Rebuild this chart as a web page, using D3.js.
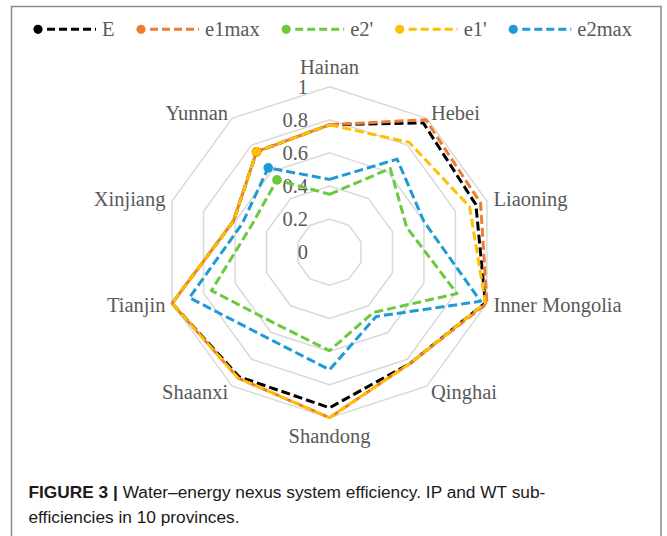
<!DOCTYPE html>
<html>
<head>
<meta charset="utf-8">
<script src="https://cdn.jsdelivr.net/npm/d3@7"></script>
<style>
  html, body { margin: 0; padding: 0; background: #ffffff; }
  svg { display: block; }
</style>
</head>
<body>
<svg id="chart" width="667" height="536"></svg>
<script>
// ---------- data ----------
const categories = ["Hainan", "Hebei", "Liaoning", "Inner Mongolia", "Qinghai", "Shandong", "Shaanxi", "Tianjin", "Xinjiang", "Yunnan"];
const seriesNames = ["E", "e1max", "e2'", "e1'", "e2max"];
const valuesE     = [0.77, 0.965, 0.93, 0.99, 0.83, 0.94, 0.93, 1.00, 0.61, 0.75];
const valuesE1max = [0.77, 0.99, 0.96, 1.00, 0.83, 1.00, 0.94, 1.00, 0.61, 0.75];
const valuesE2p   = [0.35, 0.625, 0.49, 0.81, 0.45, 0.595, 0.54, 0.75, 0.50, 0.54];
const valuesE1p   = [0.77, 0.82, 0.89, 0.99, 0.83, 1.00, 0.94, 1.00, 0.61, 0.75];
const valuesE2max = [0.44, 0.695, 0.60, 0.96, 0.48, 0.71, 0.64, 0.89, 0.555, 0.63];
const tickValues = [0, 0.2, 0.4, 0.6, 0.8, 1];
const tickLabels = ["0", "0.2", "0.4", "0.6", "0.8", "1"];
const captionBold = "FIGURE 3 |";
const captionLine1 = " Water\u2013energy nexus system efficiency. IP and WT sub-";
const captionLine2 = "efficiencies in 10 provinces.";

// ---------- styling ----------
const colors = ["#000000", "#ED7D31", "#6CC93D", "#FFC000", "#1E9BD7"];
const serif = "'Liberation Serif', 'Times New Roman', serif";
const textGray = "#595959";

const series = [valuesE, valuesE1max, valuesE2p, valuesE1p, valuesE2max].map((v, i) => ({
  name: seriesNames[i], values: v, color: colors[i]
}));

const svg = d3.select("#chart");
const cx = 329.5, cy = 252.2, R = 165.5;

// frame
svg.append("rect")
  .attr("x", 11.5).attr("y", 6.5)
  .attr("width", 649.5).attr("height", 560)
  .attr("fill", "#fff").attr("stroke", "#8a8a8a").attr("stroke-width", 1.5);

const r = d3.scaleLinear().domain([0, 1]).range([0, R]);
const angle = d3.scaleLinear().domain([0, categories.length]).range([0, 2 * Math.PI]);

const g = svg.append("g").attr("transform", `translate(${cx},${cy})`);

// grid rings
const ringLine = d3.lineRadial()
  .angle((d, i) => angle(i))
  .radius(d => r(d))
  .curve(d3.curveLinearClosed);

g.selectAll("path.ring")
  .data(tickValues.filter(t => t > 0))
  .join("path")
  .attr("class", "ring")
  .attr("d", t => ringLine(categories.map(() => t)))
  .attr("fill", "none")
  .attr("stroke", "#d9d9d9")
  .attr("stroke-width", 1.5);

// tick labels
g.selectAll("text.tick")
  .data(tickValues)
  .join("text")
  .attr("class", "tick")
  .attr("x", -21.5)
  .attr("y", t => -r(t))
  .attr("text-anchor", "end")
  .attr("dominant-baseline", "central")
  .attr("font-family", serif)
  .attr("font-size", 20.5)
  .attr("fill", textGray)
  .text((t, i) => tickLabels[i]);

// category labels
g.selectAll("text.cat")
  .data(categories)
  .join("text")
  .attr("class", "cat")
  .each(function (d, i) {
    const a = angle(i);
    const s = Math.sin(a), c = Math.cos(a);
    const vx = r(1) * s, vy = -r(1) * c;
    const el = d3.select(this);
    if (Math.abs(s) < 0.01) {
      el.attr("x", vx).attr("y", vy + (c > 0 ? -19.5 : 18))
        .attr("text-anchor", "middle");
    } else {
      el.attr("x", vx + s * 7).attr("y", vy - c * 7)
        .attr("text-anchor", s > 0 ? "start" : "end");
    }
  })
  .attr("dominant-baseline", "central")
  .attr("font-family", serif)
  .attr("font-size", 20.5)
  .attr("fill", textGray)
  .text(d => d);

// series
const seriesLine = d3.lineRadial()
  .angle((d, i) => angle(i))
  .radius(d => r(d))
  .curve(d3.curveLinearClosed);

series.forEach(s => {
  g.append("path")
    .attr("d", seriesLine(s.values))
    .attr("fill", "none")
    .attr("stroke", s.color)
    .attr("stroke-width", 3)
    .attr("stroke-dasharray", "9,4")
    .attr("stroke-linejoin", "round");
});
// markers at the last category
series.forEach(s => {
  const i = categories.length - 1;
  const a = angle(i);
  g.append("circle")
    .attr("cx", r(s.values[i]) * Math.sin(a))
    .attr("cy", -r(s.values[i]) * Math.cos(a))
    .attr("r", 4.8)
    .attr("fill", s.color);
});

// legend
const legend = svg.append("g");
let lx = 38;
const ly = 29.3;
series.forEach(s => {
  const item = legend.append("g");
  item.append("line")
    .attr("x1", lx + 9).attr("x2", lx + 58)
    .attr("y1", ly).attr("y2", ly)
    .attr("stroke", s.color).attr("stroke-width", 3)
    .attr("stroke-dasharray", "8,4");
  item.append("circle")
    .attr("cx", lx).attr("cy", ly).attr("r", 4.6)
    .attr("fill", s.color);
  const t = item.append("text")
    .attr("x", lx + 64).attr("y", ly)
    .attr("dominant-baseline", "central")
    .attr("font-family", serif)
    .attr("font-size", 20.5)
    .attr("fill", textGray)
    .text(s.name);
  lx = lx + 64 + t.node().getComputedTextLength() + 26.5;
});

// caption
const cap = svg.append("g")
  .attr("font-family", "'Liberation Sans', Arial, sans-serif")
  .attr("font-size", 17.3)
  .attr("fill", "#1a1a1a");
const l1 = cap.append("text").attr("x", 28.5).attr("y", 498);
l1.append("tspan").attr("font-weight", "bold").text(captionBold);
l1.append("tspan").text(captionLine1);
cap.append("text").attr("x", 28.5).attr("y", 522.5).text(captionLine2);
</script>
</body>
</html>
